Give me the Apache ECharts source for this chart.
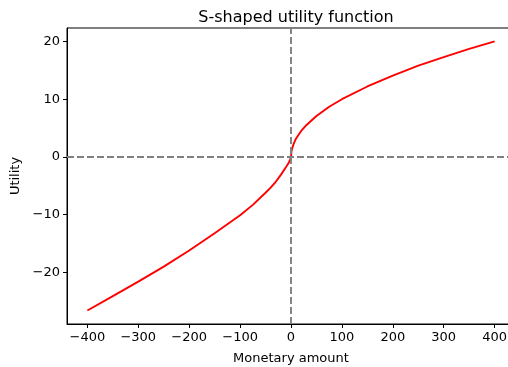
<!doctype html>
<html>
<head>
<meta charset="utf-8" />
<script src="https://cdn.jsdelivr.net/npm/echarts@6/dist/echarts.min.js"></script>
<style>
  html, body { margin: 0; padding: 0; background: #fff; }
  #chart { width: 508px; height: 367px; }
</style>
</head>
<body>
<div id="chart"></div>
<script>
// values
const amounts = [-400, -350, -300, -250, -200, -150, -100, -75, -50, -40, -30, -20, -10, -5, -2, 0,
  1, 2, 5, 10, 20, 30, 50, 75, 100, 150, 200, 250, 300, 350, 400];
const utility = [-26.6, -24.1, -21.6, -19.0, -16.2, -13.2, -10.1, -8.3, -6.2, -5.3, -4.3, -3.1, -1.8, -1.1, -0.5, 0,
  1.0, 1.4, 2.2, 3.2, 4.5, 5.5, 7.1, 8.7, 10.0, 12.2, 14.1, 15.8, 17.3, 18.7, 20.0];
const xTicks = [-400, -300, -200, -100, 0, 100, 200, 300, 400];
const yTicks = [-20, -10, 0, 10, 20];

const font = 'DejaVu Sans';
const chart = echarts.init(document.getElementById('chart'), null, { renderer: 'canvas' });

const minusFmt = (v) => (v < 0 ? '\u2212' + Math.abs(v) : String(v));

chart.setOption({
  animation: false,
  backgroundColor: '#fff',
  title: {
    text: 'S-shaped utility function',
    left: 291,
    top: 5,
    textAlign: 'center',
    textStyle: { fontFamily: font, fontSize: 16, fontWeight: 'normal', color: '#000' },
  },
  // the right edge of the axes box falls just outside the picture
  grid: {
    left: 67, width: 448, top: 28, bottom: 43,
    outerBoundsMode: 'none', containLabel: false,
    show: true, borderColor: '#000', borderWidth: 1,
  },
  xAxis: {
    type: 'value',
    min: -440,
    max: 440,
    name: 'Monetary amount',
    nameLocation: 'middle',
    nameGap: 28,
    nameTextStyle: { fontFamily: font, fontSize: 13, color: '#000' },
    axisLine: { show: true, onZero: false, lineStyle: { color: '#000', width: 1 } },
    axisTick: { show: true, length: 4, customValues: xTicks, lineStyle: { color: '#000' } },
    axisLabel: { customValues: xTicks, margin: 7, fontFamily: font, fontSize: 13, color: '#000', formatter: minusFmt },
    splitLine: { show: false },
  },
  yAxis: {
    type: 'value',
    min: -28.93,
    max: 22.33,
    name: 'Utility',
    nameLocation: 'middle',
    nameGap: 41,
    nameTextStyle: { fontFamily: font, fontSize: 13, color: '#000' },
    axisLine: { show: true, onZero: false, lineStyle: { color: '#000', width: 1 } },
    axisTick: { show: true, length: 4, customValues: yTicks, lineStyle: { color: '#000' } },
    axisLabel: { customValues: yTicks, margin: 7, fontFamily: font, fontSize: 13, color: '#000', formatter: minusFmt },
    splitLine: { show: false },
  },
  series: [
    {
      type: 'line',
      data: amounts.map((a, i) => [a, utility[i]]),
      showSymbol: false,
      lineStyle: { color: '#ff0000', width: 1.9 },
      z: 3,
      markLine: {
        silent: true,
        symbol: 'none',
        label: { show: false },
        lineStyle: { color: '#808080', type: [7, 3], width: 1.9 },
        data: [{ xAxis: 0 }, { yAxis: 0 }],
        z: 4,
      },
    },
  ],
});
</script>
</body>
</html>
